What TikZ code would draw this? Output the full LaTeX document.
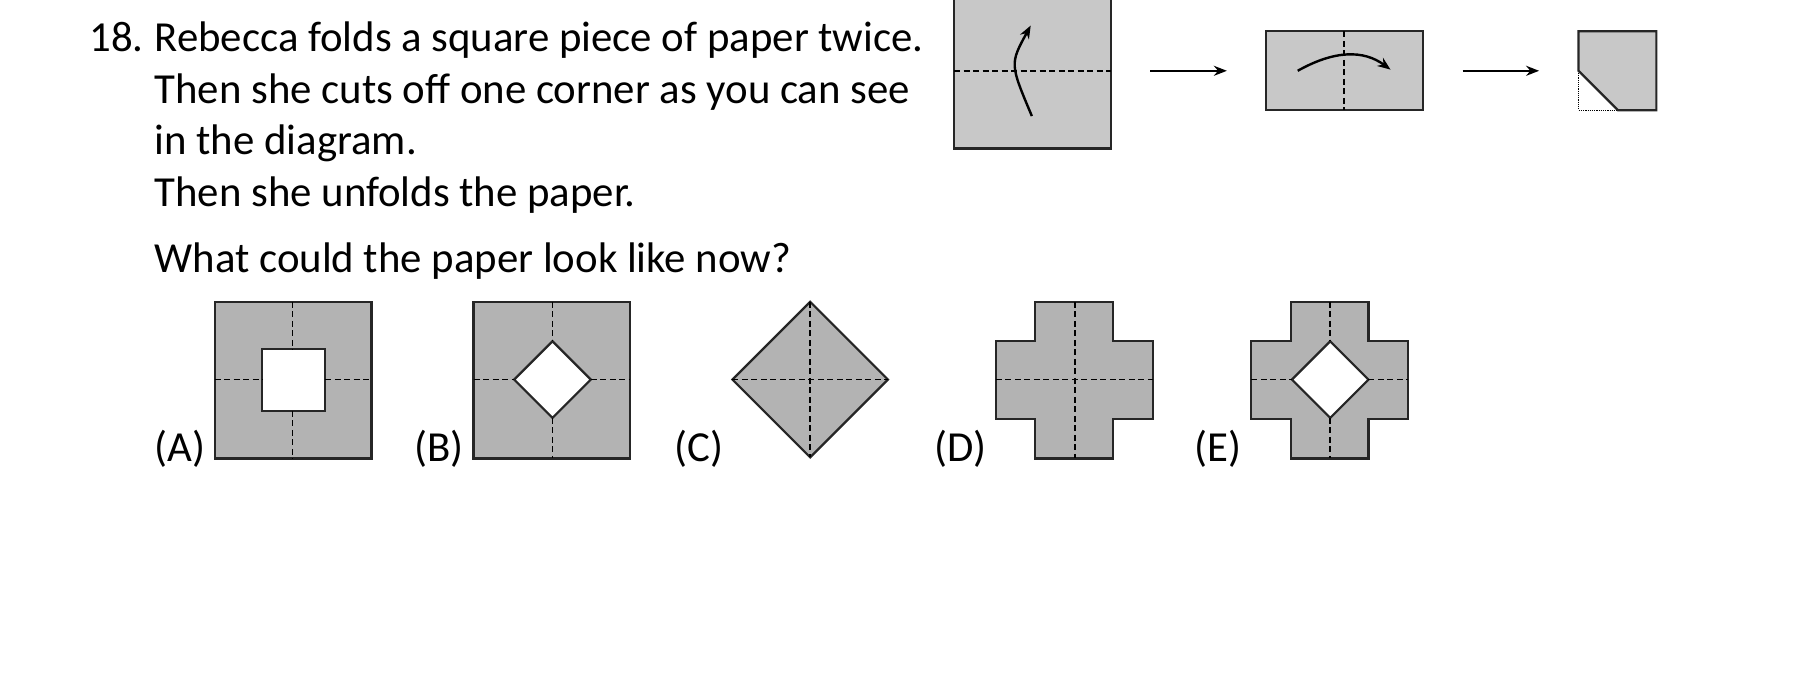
\documentclass[tikz,border=0pt]{standalone}
\usepackage{fontspec}
\setmainfont{Carlito}
\usetikzlibrary{arrows.meta}
\definecolor{paperlight}{HTML}{C8C8C8}
\definecolor{paperdark}{HTML}{B3B3B3}
\tikzset{
  fold/.style={dash pattern=on 6pt off 3.5pt, line width=1.8pt},
  sheet/.style={draw=black!85, line width=2.2pt},
  qtext/.style={anchor=base west, font=\fontsize{42.8}{46}\selectfont, inner sep=0pt},
  step arrow/.style={line width=2.4pt, -{Stealth[length=13pt,width=10pt]}}
}
\begin{document}
\begin{tikzpicture}[x=1.1607pt,y=-1.1607pt]
  \useasboundingbox (0,0) rectangle (1568,582.4);
  % question text
  \node[qtext] (num) at (77,44) {18.};
  \node[qtext] (l1) at (133,44) {Rebecca folds a square piece of paper twice.};
  \node[qtext] (l2) at (133,89) {Then she cuts off one corner as you can see};
  \node[qtext] (l3) at (133,133) {in the diagram.};
  \node[qtext] (l4) at (133,178) {Then she unfolds the paper.};
  \node[qtext] (l5) at (133,235) {What could the paper look like now?};
  % folding steps
  \draw[sheet, fill=paperlight] (822,-7) rectangle (957,128);
  \draw[fold] (822,61) -- (957,61);
  \draw[step arrow] (889,100) .. controls (870,55) .. (888,22);
  \coordinate (a1s) at (991,61); \coordinate (a1e) at (1057,61);
  \draw[step arrow] (a1s) -- (a1e);
  \draw[sheet, fill=paperlight] (1091,27) rectangle (1226,95);
  \draw[fold] (1158,27) -- (1158,95);
  \draw[step arrow] (1118,61) .. controls (1150,43) and (1175,43) .. (1198,60);
  \coordinate (a2s) at (1260,61); \coordinate (a2e) at (1326,61);
  \draw[step arrow] (a2s) -- (a2e);
  \draw[densely dotted, line width=1.2pt] (1360,61) -- (1360,95) -- (1394,95);
  \draw[sheet, fill=paperlight] (1360,61) -- (1360,27) -- (1427,27) -- (1427,95) -- (1394,95) -- cycle;
  % answers
  \foreach \lab/\x in {A/133,B/357,C/581,D/805,E/1029}
    \node[qtext] (lab\lab) at (\x,398) {(\lab)};
  % A
  \draw[sheet, fill=paperdark] (185,260) rectangle (320,395);
  \draw[sheet, fill=white] (226,301) rectangle (280,354);
  \draw[fold] (252,260) -- (252,301) (252,354) -- (252,395) (185,327) -- (226,327) (280,327) -- (320,327);
  % B
  \draw[sheet, fill=paperdark] (408,260) rectangle (543,395);
  \draw[sheet, fill=white] (443,327) -- (476,294) -- (509,327) -- (476,360) -- cycle;
  \draw[fold] (476,260) -- (476,294) (476,360) -- (476,395) (408,327) -- (443,327) (509,327) -- (543,327);
  % C
  \draw[sheet, fill=paperdark] (631,327) -- (698,260) -- (765,327) -- (698,394) -- cycle;
  \draw[fold] (631,327) -- (765,327) (698,260) -- (698,394);
  % D
  \draw[sheet, fill=paperdark] (892,260) -- (959,260) -- (959,294) -- (993,294) -- (993,361) -- (959,361) -- (959,395) -- (892,395) -- (892,361) -- (858,361) -- (858,294) -- (892,294) -- cycle;
  \draw[fold] (858,327) -- (993,327) (926,260) -- (926,395);
  % E
  \draw[sheet, fill=paperdark] (1112,260) -- (1179,260) -- (1179,294) -- (1213,294) -- (1213,361) -- (1179,361) -- (1179,395) -- (1112,395) -- (1112,361) -- (1078,361) -- (1078,294) -- (1112,294) -- cycle;
  \draw[sheet, fill=white] (1113,327) -- (1146,294) -- (1179,327) -- (1146,360) -- cycle;
  \draw[fold] (1146,260) -- (1146,294) (1146,360) -- (1146,395) (1078,327) -- (1113,327) (1179,327) -- (1213,327);
\end{tikzpicture}
\end{document}
